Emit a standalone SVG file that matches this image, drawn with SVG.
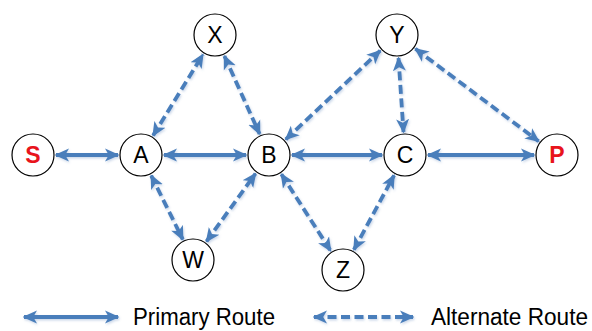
<svg xmlns="http://www.w3.org/2000/svg" width="592" height="331" viewBox="0 0 592 331">
  <style>
    .node circle { fill: #ffffff; stroke: #000000; stroke-width: 1.2; }
    .node text { font-family: "Liberation Sans", Arial, sans-serif; font-size: 23px; fill: #000000; text-anchor: middle; dominant-baseline: central; }
    .node text.end { fill: #e8141c; font-weight: bold; }
    .edge { stroke: #4a7ebb; stroke-width: 3.8; fill: none; marker-start: url(#head); marker-end: url(#head); filter: url(#soft); }
    .alt { stroke-dasharray: 9 4.5; }
    .legend { font-family: "Liberation Sans", Arial, sans-serif; font-size: 23px; fill: #000000; }
  </style>
  <defs>
    <marker id="head" viewBox="0 0 10 10" refX="9" refY="5" markerWidth="3.8" markerHeight="3.8" orient="auto-start-reverse" markerUnits="strokeWidth">
      <path d="M0,0.5 L10,5 L0,9.5 L2.6,5 Z" fill="#4a7ebb"/>
    </marker>
    <filter id="soft" filterUnits="userSpaceOnUse" x="0" y="0" width="592" height="331">
      <feDropShadow dx="1" dy="1.5" stdDeviation="1.3" flood-color="#6a8fc0" flood-opacity="0.35"/>
    </filter>
  </defs>

  <rect width="592" height="331" fill="#ffffff"/>

  <!-- connectors -->
  <g id="connectors">
    <!-- primary routes -->
    <line class="edge" x1="56" y1="155" x2="118" y2="155"/>
    <line class="edge" x1="164" y1="155" x2="246" y2="155"/>
    <line class="edge" x1="292" y1="155" x2="382" y2="155"/>
    <line class="edge" x1="428" y1="155" x2="534" y2="155"/>
    <!-- alternate routes -->
    <line class="edge alt" x1="153.1" y1="135.4" x2="202.9" y2="54.6"/>
    <line class="edge alt" x1="224.4" y1="56" x2="259.6" y2="134"/>
    <line class="edge alt" x1="285.8" y1="139.3" x2="380.2" y2="50.7"/>
    <line class="edge alt" x1="398.5" y1="58" x2="403.5" y2="132"/>
    <line class="edge alt" x1="415.4" y1="48.8" x2="538.6" y2="141.2"/>
    <line class="edge alt" x1="151.2" y1="175.6" x2="182.8" y2="239.4"/>
    <line class="edge alt" x1="206.5" y1="241.4" x2="255.5" y2="173.6"/>
    <line class="edge alt" x1="281.4" y1="174.3" x2="330.6" y2="250.7"/>
    <line class="edge alt" x1="353.9" y1="249.7" x2="394.1" y2="175.3"/>
  </g>

  <!-- nodes -->
  <g id="node-S" class="node"><circle cx="33" cy="155" r="21"/><text class="end" x="33" y="155">S</text></g>
  <g id="node-A" class="node"><circle cx="141" cy="155" r="21"/><text x="141" y="155">A</text></g>
  <g id="node-B" class="node"><circle cx="269" cy="155" r="21"/><text x="269" y="155">B</text></g>
  <g id="node-C" class="node"><circle cx="405" cy="155" r="21"/><text x="405" y="155">C</text></g>
  <g id="node-P" class="node"><circle cx="557" cy="155" r="21"/><text class="end" x="557" y="155">P</text></g>
  <g id="node-X" class="node"><circle cx="215" cy="35" r="21"/><text x="215" y="35">X</text></g>
  <g id="node-Y" class="node"><circle cx="397" cy="35" r="21"/><text x="397" y="35">Y</text></g>
  <g id="node-W" class="node"><circle cx="193" cy="260" r="21"/><text x="193" y="260">W</text></g>
  <g id="node-Z" class="node"><circle cx="343" cy="270" r="21"/><text x="343" y="270">Z</text></g>

  <!-- legend -->
  <g id="legend">
    <line class="edge" x1="24" y1="317" x2="118" y2="317"/>
    <text class="legend" x="133" y="325" textLength="142" lengthAdjust="spacingAndGlyphs">Primary Route</text>
    <line class="edge alt" x1="314" y1="317" x2="413" y2="317"/>
    <text class="legend" x="431" y="325" textLength="157" lengthAdjust="spacingAndGlyphs">Alternate Route</text>
  </g>
</svg>
